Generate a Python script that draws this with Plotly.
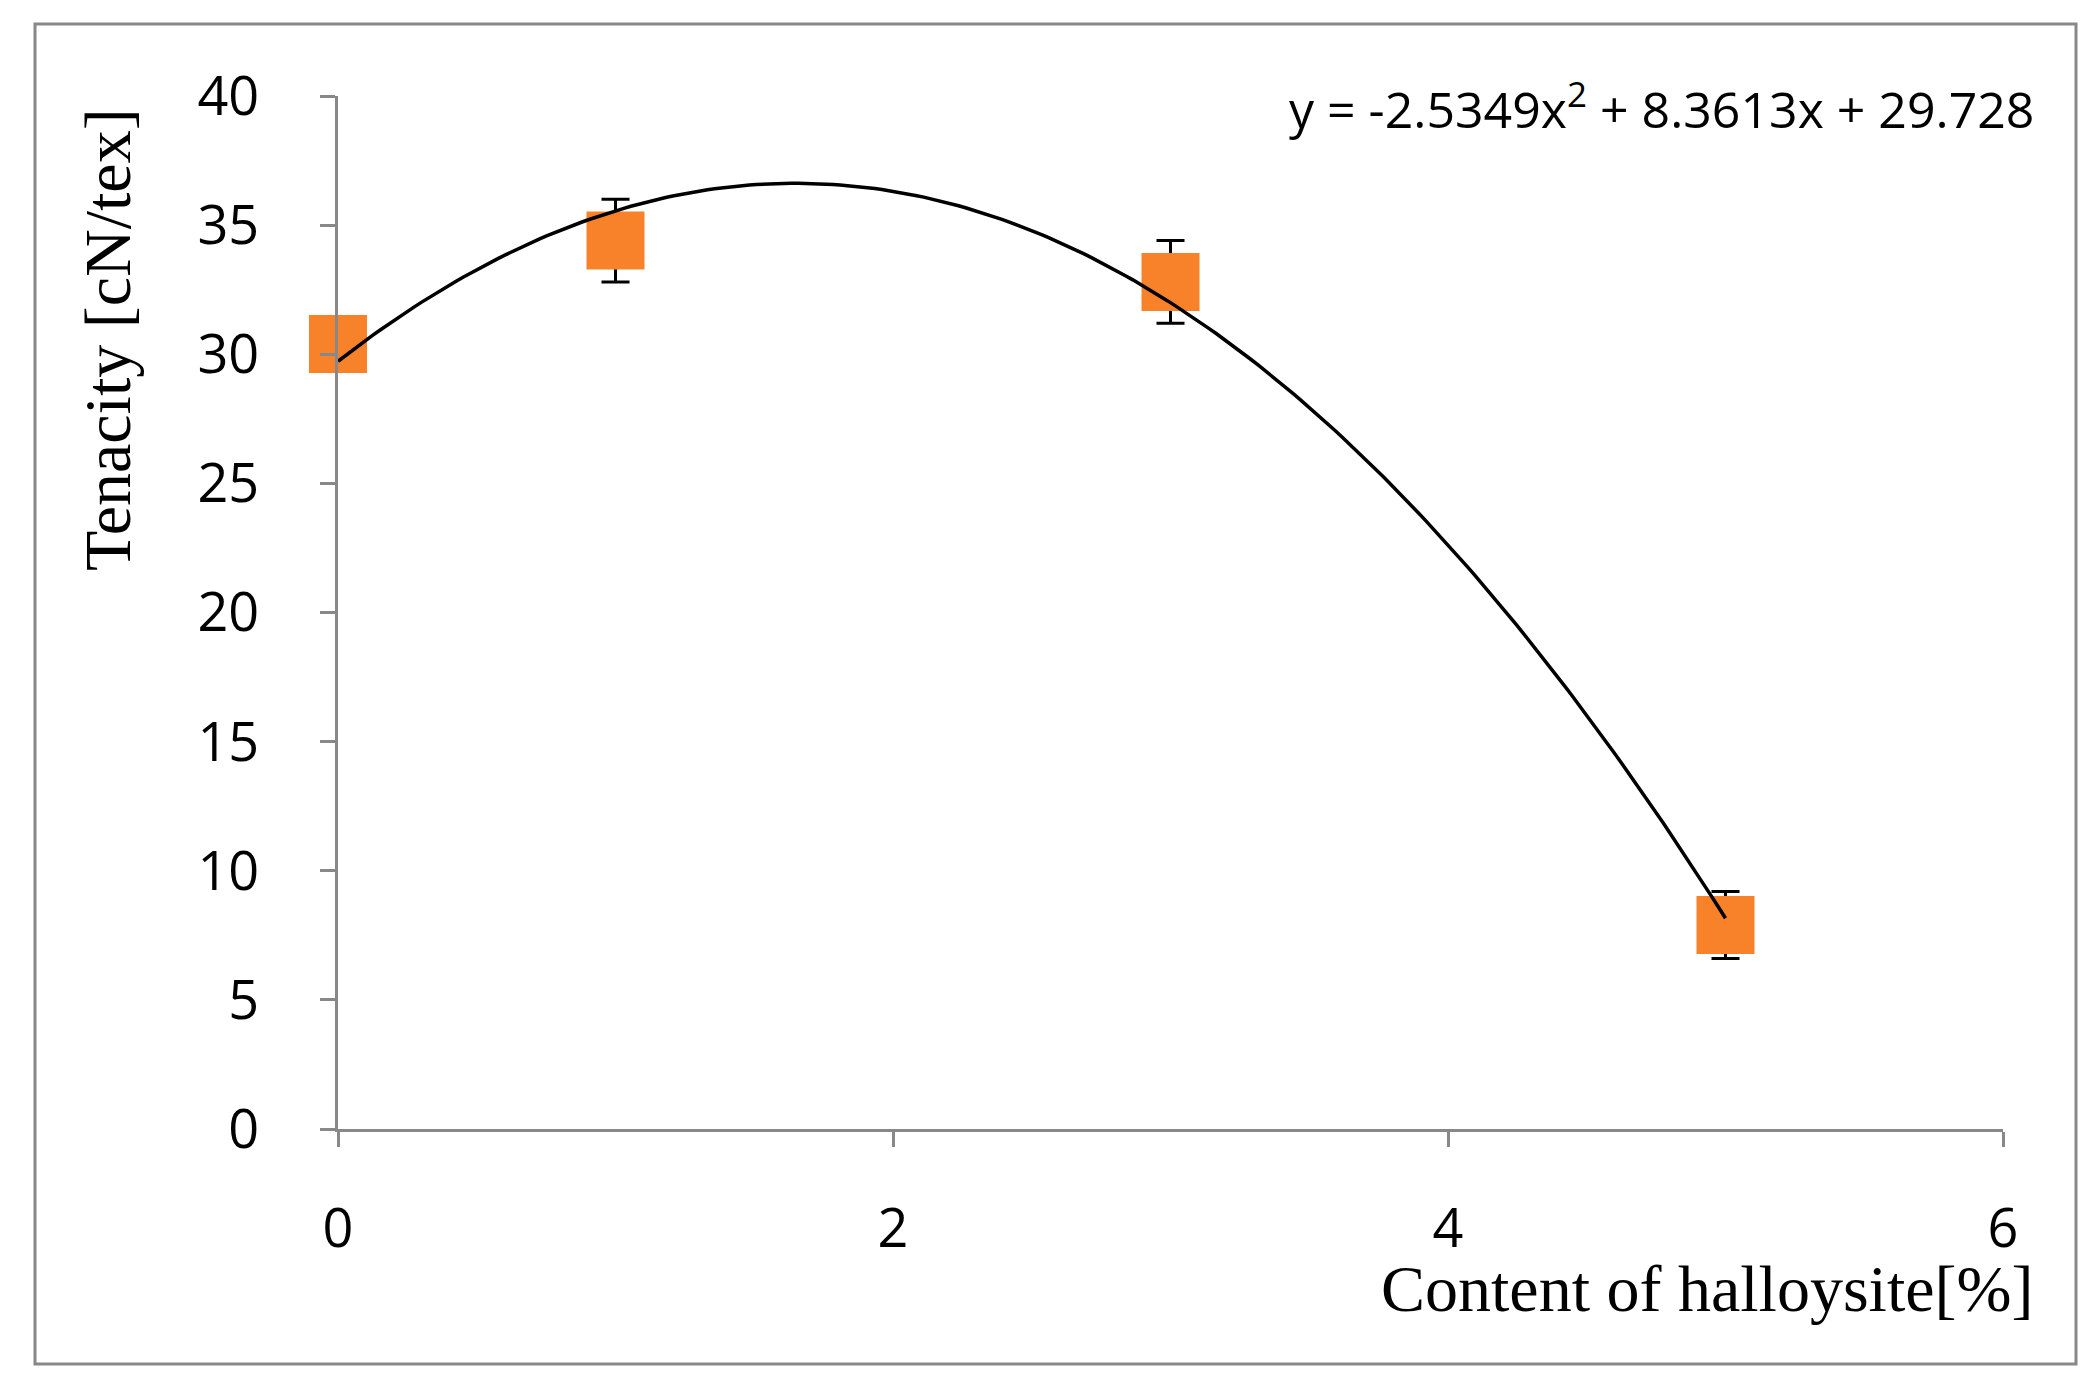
import numpy as np
import plotly.graph_objects as go

x_vals = [0, 1, 3, 5]
y_vals = [30.4, 34.4, 32.8, 7.9]
y_err = [0.5, 1.6, 1.6, 1.3]
coef = [-2.5349, 8.3613, 29.728]
x_ticks = [0, 2, 4, 6]
y_ticks = [0, 5, 10, 15, 20, 25, 30, 35, 40]

W, H = 2095, 1377
L, R, T, B = 330, 100, 88, 256

xf = np.linspace(0, 5, 200)
yf = np.polyval(coef, xf)

fig = go.Figure()
fig.add_trace(go.Scatter(x=x_vals, y=y_vals, mode="markers", cliponaxis=False,
    marker=dict(symbol="square", size=58, color="#F7822A"),
    error_y=dict(type="data", array=y_err, color="black", thickness=3, width=14),
    showlegend=False))
fig.add_trace(go.Scatter(x=xf, y=yf, mode="lines", cliponaxis=False,
    line=dict(color="black", width=3.5), showlegend=False))

tickfont = dict(family="Open Sans, Lato, sans-serif", size=54, color="black")
fig.update_xaxes(range=[0, 6], tickvals=x_ticks, ticks="outside", ticklen=15,
    tickcolor="#888", tickwidth=3, showline=True, linecolor="#888", linewidth=3,
    showgrid=False, zeroline=False, tickfont=tickfont, ticklabelstandoff=35)
fig.update_yaxes(range=[0, 40], tickvals=y_ticks, ticks="outside", ticklen=15,
    tickcolor="#888", tickwidth=3, showline=True, linecolor="#888", linewidth=3,
    showgrid=False, zeroline=False, tickfont=tickfont, ticklabelstandoff=50)

serif = dict(family="Liberation Serif, DejaVu Serif, serif", size=66, color="black")
fig.update_layout(
    width=W, height=H, margin=dict(l=L, r=R, t=T, b=B),
    paper_bgcolor="white", plot_bgcolor="white",
    shapes=[dict(type="rect", xref="paper", yref="paper",
        x0=-(L - 27) / (W - L - R), x1=1 + (R - 27) / (W - L - R),
        y0=-(B - 21) / (H - T - B), y1=1 + (T - 16) / (H - T - B),
        line=dict(color="#888", width=3))],
    annotations=[
        dict(text="Content of halloysite[%]", xref="paper", yref="paper",
             x=1.02, y=-0.154, xanchor="right", yanchor="middle",
             showarrow=False, font=serif),
        dict(text="Tenacity [cN/tex]", xref="paper", yref="paper",
             x=-0.138, y=0.764, textangle=-90, xanchor="center", yanchor="middle",
             showarrow=False, font=serif),
        dict(text="y = -2.5349x<sup>2</sup> + 8.3613x + 29.728", xref="paper", yref="paper",
             x=1.02, y=0.99, xanchor="right", yanchor="middle",
             showarrow=False, font=dict(family="Open Sans, Lato, sans-serif", size=50, color="black")),
    ])
fig.write_html("out.html")
